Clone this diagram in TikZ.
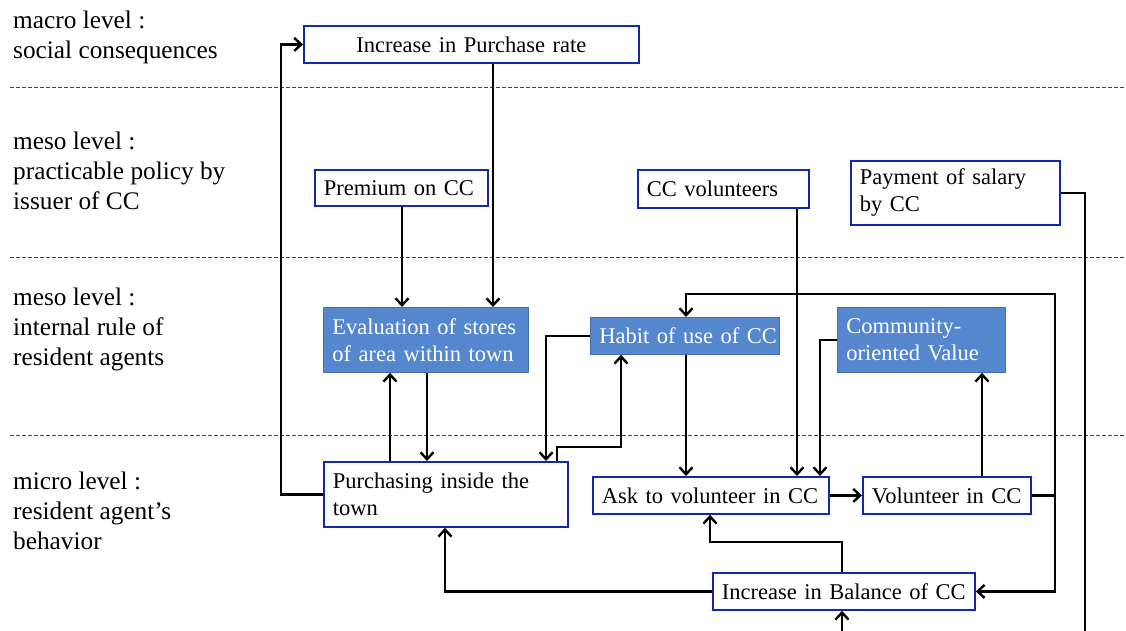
\documentclass[tikz,border=0pt]{standalone}
\usepackage{fontspec}
\setmainfont{Liberation Serif}
\usetikzlibrary{arrows.meta}
\definecolor{boxblue}{RGB}{20,40,170}
\definecolor{fillblue}{RGB}{85,135,207}
\definecolor{fillborder}{RGB}{65,110,180}
\tikzset{
  wbox/.style={draw=boxblue, line width=1.8pt, fill=white, anchor=north west,
    inner xsep=9pt, inner ysep=0pt, align=left, text=black,
    font=\fontsize{22.5}{27}\selectfont},
  bluebox/.style={wbox, draw=fillborder, line width=0.8pt, fill=fillblue, text=white},
  lbl/.style={anchor=north west, inner sep=0pt, align=left,
    font=\fontsize{25.3}{30}\selectfont},
  conn/.style={line width=2.4pt, -{Straight Barb[length=7pt,width=13pt]}},
  sep/.style={dash pattern=on 4pt off 2pt, line width=0.9pt, draw=black!75}
}
\begin{document}
\begin{tikzpicture}[x=1pt,y=-1pt]
\useasboundingbox (0,0) rectangle (1126,630);
\clip (0,0) rectangle (1126,630);

% level separators
\draw[sep] (10,87) -- (1126,87);
\draw[sep] (10,257) -- (1126,257);
\draw[sep] (10,435) -- (1126,435);

% level labels
\node[lbl] (l1) at (13,10.6) {macro level :\\social consequences};
\node[lbl] (l2) at (13,131.6) {meso level :\\practicable policy by\\issuer of CC};
\node[lbl] (l3) at (13,287.6) {meso level :\\internal rule of\\resident agents};
\node[lbl] (l4) at (13,471.6) {micro level :\\resident agent’s\\behavior};

% boxes
\node[wbox, align=center, minimum width=335pt, minimum height=37pt, text width=317pt] (rate) at (303,25) {Increase in Purchase rate};
\node[wbox, minimum width=173pt, minimum height=36pt, text width=155pt] (prem) at (314,169) {Premium on CC};
\node[wbox, minimum width=171pt, minimum height=38pt, text width=153pt] (volc) at (637,169) {CC volunteers};
\node[wbox, minimum width=209pt, minimum height=64pt, text width=191pt] (pay) at (850,160) {Payment of salary\\by CC};
\node[bluebox, minimum width=205pt, minimum height=65pt, text width=187pt] (eval) at (323,307) {\mbox{Evaluation of stores}\\of area within town};
\node[bluebox, minimum width=189pt, minimum height=37pt, text width=171pt] (habit) at (590,317) {\mbox{Habit of use of CC}};
\node[bluebox, minimum width=168pt, minimum height=65pt, text width=150pt] (comm) at (837,307) {Community-\\oriented Value};
\node[wbox, minimum width=244pt, minimum height=65pt, text width=226pt] (purch) at (323,461) {Purchasing inside the\\town};
\node[wbox, minimum width=236pt, minimum height=37pt, text width=218pt] (ask) at (592,476) {\mbox{Ask to volunteer in CC}};
\node[wbox, minimum width=168pt, minimum height=37pt, text width=150pt] (volin) at (862,476) {\mbox{Volunteer in CC}};
\node[wbox, minimum width=262pt, minimum height=37pt, text width=244pt] (bal) at (712,572) {\mbox{Increase in Balance of CC}};

% helper coordinates
\coordinate (habtop) at ([xshift=96pt]habit.north west);
\coordinate (vr) at ([xshift=23pt]volin.east);
\coordinate (payr) at ([xshift=24pt]pay.east);
\coordinate (balb) at ([xshift=130pt]bal.south west);

% connectors
\draw[conn] (purch.west) -- ++(-42,0) |- (rate.west);
\draw[conn] ([xshift=190pt]rate.south west) -- ([xshift=170pt]eval.north west);
\draw[conn] ([xshift=88pt]prem.south west) -- ([xshift=79pt]eval.north west);
\draw[conn] ([xshift=67pt]purch.north west) -- ([xshift=67pt]eval.south west);
\draw[conn] ([xshift=104pt]eval.south west) -- ([xshift=104pt]purch.north west);
\draw[conn] (habit.west) -| ([xshift=223pt]purch.north west);
\draw[conn] ([xshift=234pt]purch.north west) -- ++(0,-14) -| ([xshift=31pt]habit.south west);
\draw[conn] ([xshift=96pt]habit.south west) -- ([xshift=96pt]habit.south west |- ask.north);
\draw[conn] ([xshift=160pt]volc.south west) -- ([xshift=160pt]volc.south west |- ask.north);
\draw[conn] (comm.west) -| ([xshift=228pt]ask.north west);
\draw[conn] ([xshift=120pt]volin.north west) -- ([xshift=120pt]volin.north west |- comm.south);
\draw[conn] (ask.east) -- (volin.west);
\draw[conn] (volin.east) -- (vr) |- ([yshift=23pt]habtop) -- (habtop);
\draw[conn] (vr) |- (bal.east);
\draw[conn] ([xshift=130pt]bal.north west) -- ++(0,-30) -| ([xshift=118pt]ask.south west);
\draw[conn] (bal.west) -| ([xshift=122pt]purch.south west);
\draw[conn] (pay.east) -- (payr) -- (payr |- 0,660) -| (balb);
\end{tikzpicture}
\end{document}
